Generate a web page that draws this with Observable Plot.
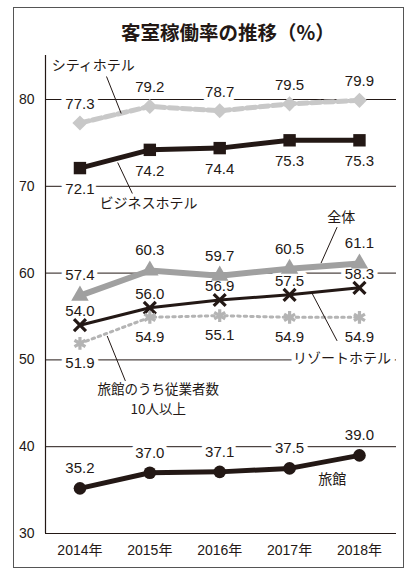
<!DOCTYPE html>
<html><head><meta charset="utf-8">
<script src="https://cdn.jsdelivr.net/npm/d3@7"></script>
<script src="https://cdn.jsdelivr.net/npm/@observablehq/plot@0.6"></script>
<style>
body{margin:0;background:#fff;}
#wrap{position:relative;width:414px;height:580px;overflow:hidden;font-family:"Noto Sans CJK JP",sans-serif;}
#frame{position:absolute;left:13px;top:7px;width:391px;height:561px;border:1.5px solid #555;box-sizing:border-box;pointer-events:none;}
#title{position:absolute;left:121px;top:19px;white-space:nowrap;font-size:19.5px;font-weight:bold;line-height:26px;color:#231815;}
#chart{position:absolute;left:0;top:45px;}
</style></head>
<body><div id="wrap"><div id="title">客室稼働率の推移（%）</div><div id="chart"></div><div id="frame"></div></div>
<script>
const years = [2014, 2015, 2016, 2017, 2018];
const yTicks = [30, 40, 50, 60, 70, 80];
const cityHotel = [77.3, 79.2, 78.7, 79.5, 79.9];
const businessHotel = [72.1, 74.2, 74.4, 75.3, 75.3];
const overall = [57.4, 60.3, 59.7, 60.5, 61.1];
const resortHotel = [54.0, 56.0, 56.9, 57.5, 58.3];
const ryokan10 = [51.9, 54.9, 55.1, 54.9, 54.9];
const ryokan = [35.2, 37.0, 37.1, 37.5, 39.0];

const BLACK = "#231815";
const rows = arr => years.map((year, i) => ({year, value: arr[i]}));

const series = [
  {data: rows(cityHotel), stroke: "#c8c8c8", sw: 5, dash: "9,4", symbol: "diamond2", r: 6.8, fill: "#c8c8c8", dy: -19},
  {data: rows(businessHotel), stroke: BLACK, sw: 5, dash: null, symbol: "square", r: 7, fill: BLACK, dy: 21},
  {data: rows(overall), stroke: "#a0a0a0", sw: 6, dash: null, symbol: "triangle", r: 6.5, fill: "#a0a0a0", dy: -20},
  {data: rows(resortHotel), stroke: BLACK, sw: 3, dash: null, symbol: "times", r: 5.5, fill: null, dy: -14},
  {data: rows(ryokan10), stroke: "#b4b4b4", sw: 3, dash: "2.5,4", symbol: "asterisk", r: 6, fill: null, dy: 20},
  {data: rows(ryokan), stroke: BLACK, sw: 5, dash: null, symbol: "circle", r: 6.3, fill: BLACK, dy: -20}
];

// annotation placements (data space)
const leaders = [
  {x1: 2014.38, y1: 82.65, x2: 2014.59, y2: 78.39},
  {x1: 2014.54, y1: 72.74, x2: 2014.75, y2: 69.17},
  {x1: 2017.68, y1: 65.3, x2: 2017.45, y2: 61.15},
  {x1: 2017.32, y1: 57.7, x2: 2017.68, y2: 52.19},
  {x1: 2014.39, y1: 52.76, x2: 2014.65, y2: 47.58}
];
const seriesLabels = [
  {text: "シティホテル", x: 2014.19, y: 83.9},
  {text: "ビジネスホテル", x: 2014.98, y: 68.04},
  {text: "全体", x: 2017.74, y: 66.45},
  {text: "リゾートホテル", x: 2017.75, y: 50.2},
  {text: "旅館", x: 2017.61, y: 36.2}
];
const twoLineLabel = [
  {text: "旅館のうち従業者数", x: 2015.12, y: 46.55},
  {text: "10人以上", x: 2015.12, y: 44.3}
];

const xDomain = [2013.507, 2018.53];
const yDomain = [30, 85.07];
const NUMFONT = "Liberation Sans, Arial, sans-serif";
const JPFONT = "Noto Sans CJK JP, sans-serif";

const marks = [
  Plot.ruleY(yTicks, {stroke: BLACK, strokeWidth: 1}),
  Plot.ruleX([xDomain[0]], {stroke: BLACK, strokeWidth: 1.2}),
  Plot.axisY({ticks: yTicks, tickSize: 0, tickPadding: 11, fontSize: 14, fill: BLACK, fontFamily: NUMFONT}),
  Plot.axisX({ticks: years, tickFormat: d => d + "年", tickSize: 0, tickPadding: 12, fontSize: 14, fill: BLACK, fontFamily: "Liberation Sans, Noto Sans CJK JP, sans-serif"})
];
// white knock-out behind labels (hides gridlines only)
for (const s of series) {
  marks.push(Plot.text(s.data, {x: "year", y: "value", text: d => d.value.toFixed(1), dy: s.dy,
    fontSize: 15, fill: "white", stroke: "white", strokeWidth: 9, strokeLinejoin: "round", fontFamily: NUMFONT}));
}
marks.push(Plot.text(seriesLabels, {x: "x", y: "y", text: "text", fontSize: 14,
  fill: "white", stroke: "white", strokeWidth: 9, strokeLinejoin: "round", fontFamily: JPFONT}));

for (const s of series) {
  marks.push(Plot.line(s.data, {x: "year", y: "value", stroke: s.stroke, strokeWidth: s.sw, strokeDasharray: s.dash, strokeLinejoin: "round"}));
}
for (const s of series) {
  marks.push(Plot.dot(s.data, {x: "year", y: "value", symbol: () => s.symbol, r: s.r,
    fill: s.fill ?? "none", stroke: s.fill ? "none" : s.stroke, strokeWidth: s.fill ? 0 : 3.2}));
}
marks.push(Plot.link(leaders, {x1: "x1", y1: "y1", x2: "x2", y2: "y2", stroke: BLACK, strokeWidth: 1}));
for (const s of series) {
  marks.push(Plot.text(s.data, {x: "year", y: "value", text: d => d.value.toFixed(1), dy: s.dy,
    fontSize: 15, fill: BLACK, fontFamily: NUMFONT}));
}
marks.push(Plot.text(seriesLabels, {x: "x", y: "y", text: "text", fontSize: 14,
  fill: BLACK, fontFamily: JPFONT}));
marks.push(Plot.text(twoLineLabel, {x: "x", y: "y", text: "text", fontSize: 13.5,
  fill: BLACK, fontFamily: JPFONT}));

const chart = Plot.plot({
  width: 414, height: 535,
  marginLeft: 45, marginRight: 18, marginTop: 10, marginBottom: 47,
  x: {type: "linear", domain: xDomain},
  y: {domain: yDomain},
  style: {background: "transparent"},
  marks
});
document.getElementById("chart").appendChild(chart);
</script>
</body></html>
